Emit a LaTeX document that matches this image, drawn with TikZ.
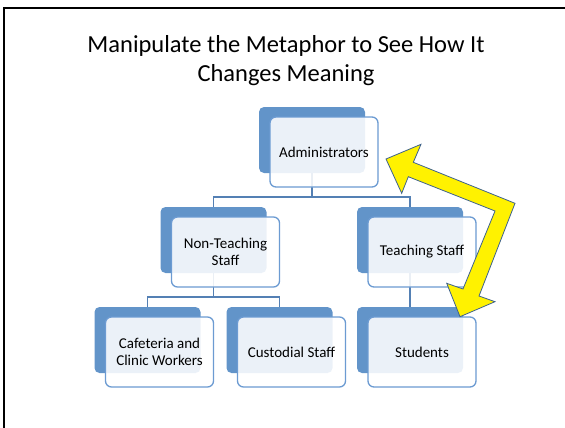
\documentclass[tikz,border=0pt]{standalone}
\usepackage{fontspec}
\setmainfont{Carlito}
\usetikzlibrary{calc,backgrounds}
\definecolor{orgback}{RGB}{98,148,201}
\definecolor{orgline}{RGB}{108,155,210}
\definecolor{linkline}{RGB}{84,128,180}
\definecolor{arrowline}{RGB}{62,98,140}
\def\orgbox(#1)(#2,#3)#4{%
	\node[backbox] (#1-back) at (#2,#3) {};
	\node[frontbox] (#1) at ($(#1-back)+(12,12)$) {#4};}

\begin{document}
\begin{tikzpicture}[x=1pt, y=-1pt,
		backbox/.style={fill=orgback, rounded corners=5pt, minimum width=106pt, minimum height=66pt, inner sep=0pt},
		frontbox/.style={draw=orgline, line width=1.3pt, fill=white, fill opacity=0.88, text opacity=1, rounded corners=6pt,
			minimum width=108pt, minimum height=70pt, inner sep=0pt, align=center, font=\fontsize{15}{17.5}\selectfont},
		link/.style={draw=linkline, line width=1.6pt}]
		%%%%% START %%%%%
		\useasboundingbox (0,0) rectangle (565,428);
		
		% slide frame
		\draw[line width=2pt] (4,428) -- (4,8) -- (565,8);
		
		\node[font=\fontsize{24.5}{29}\selectfont, align=center] (title) at (286,61)
			{Manipulate the Metaphor to See How It\\Changes Meaning};
		
		\orgbox(adm)(312,140){Administrators}
		\orgbox(nts)(213.5,240){Non-Teaching\\Staff}
		\orgbox(ts)(410,240){Teaching Staff}
		\orgbox(caf)(147.5,340){Cafeteria and\\Clinic Workers}
		\orgbox(cus)(279.5,340){Custodial Staff}
		\orgbox(stu)(410,340){Students}
		
		\begin{pgfonlayer}{background}
			\draw[link] (adm-back.south) |- ($(adm.south)!.5!(nts-back.north)$) -| (nts-back.north);
			\draw[link] (adm-back.south) |- ($(adm.south)!.5!(ts-back.north)$) -| (ts-back.north);
			\draw[link] (nts-back.south) |- ($(nts.south)!.5!(caf-back.north)$) -| (caf-back.north);
			\draw[link] (nts-back.south) |- ($(nts.south)!.5!(cus-back.north)$) -| (cus-back.north);
			\draw[link] (ts-back.south) -- (stu-back.north);
		\end{pgfonlayer}
		
		% yellow bent arrow
		\draw[fill=yellow, draw=arrowline, line width=0.8pt, line join=miter]
			(386,159) -- (421,144.3) -- (413.3,162.3) -- (515,203.3) -- (479,296)
			-- (495,301.7) -- (460,316.7) -- (446.7,283.3) -- (463,289) -- (495,211)
			-- (408.3,176.7) -- (401.7,193.3) -- cycle;
		%%%%% END %%%%%
\end{tikzpicture}
\end{document}
